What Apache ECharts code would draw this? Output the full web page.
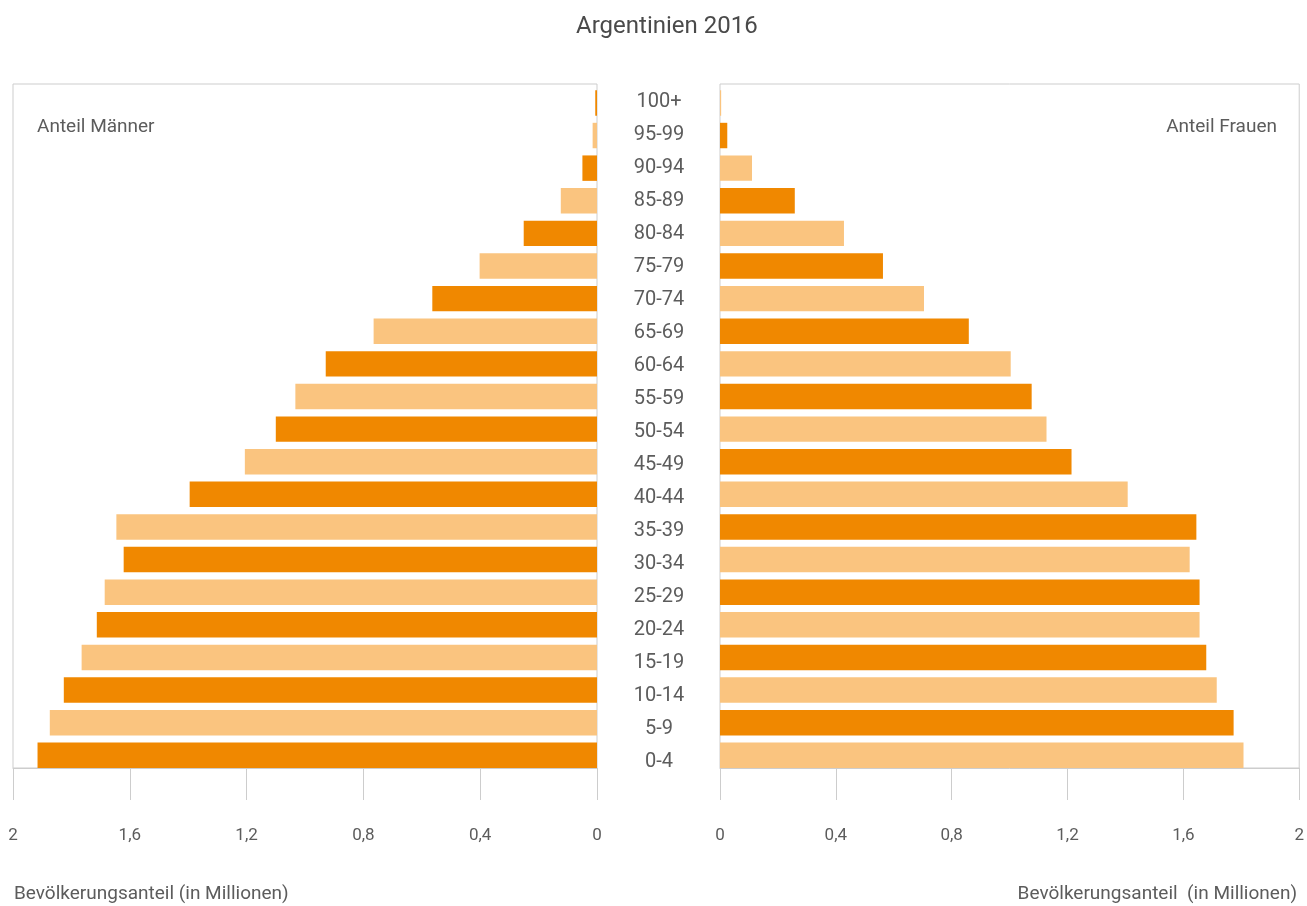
<!DOCTYPE html>
<html>
<head>
<meta charset="utf-8">
<title>Argentinien 2016</title>
<script src="https://cdn.jsdelivr.net/npm/echarts@6/dist/echarts.min.js"></script>
<style>
  html, body { margin: 0; padding: 0; background: #ffffff; }
  #chart { width: 1307px; height: 906px; }
</style>
</head>
<body>
<div id="chart"></div>
<script>
// Age groups, youngest first (drawn bottom to top)
const ageGroups = ['0-4', '5-9', '10-14', '15-19', '20-24', '25-29', '30-34', '35-39',
  '40-44', '45-49', '50-54', '55-59', '60-64', '65-69', '70-74', '75-79', '80-84',
  '85-89', '90-94', '95-99', '100+'];

// Population in millions
const men = [1.916, 1.874, 1.826, 1.765, 1.713, 1.686, 1.621, 1.646, 1.395, 1.206,
  1.100, 1.033, 0.929, 0.765, 0.564, 0.402, 0.251, 0.124, 0.050, 0.015, 0.006];
const women = [1.799, 1.765, 1.707, 1.671, 1.648, 1.648, 1.614, 1.637, 1.401, 1.208,
  1.122, 1.071, 0.999, 0.855, 0.701, 0.560, 0.426, 0.257, 0.110, 0.025, 0.004];

const xTicks = { min: 0, max: 2, interval: 0.4 };

const DARK = '#F08800';
const LIGHT = '#FAC47F';
const FRAME = '#cdcdcd';
const TEXT = '#5c5c5c';
const FONT = 'Roboto, "DejaVu Sans", sans-serif';

const fmt = v => String(+(+v).toFixed(1)).replace('.', ',');

// Panel geometry: outer frame and the slightly taller band the bars sit in
const LEFT_PANEL = { left: 13, right: 710 };
const RIGHT_PANEL = { left: 720, right: 5 };
const FRAME_V = { top: 84, bottom: 138 };
const BARS_V = { top: 86.6, bottom: 134.4 };

function frameAxis(gridIndex, inverse) {
  return {
    type: 'value', gridIndex: gridIndex, inverse: inverse,
    min: xTicks.min, max: xTicks.max, interval: xTicks.interval,
    axisLine: { show: true, lineStyle: { color: FRAME, width: 1 } },
    axisTick: { show: true, length: 32, lineStyle: { color: FRAME, width: 1 } },
    axisLabel: { margin: 59, color: TEXT, fontSize: 17, fontFamily: FONT, formatter: fmt },
    splitLine: { show: false }
  };
}

function barAxis(gridIndex, inverse) {
  return {
    type: 'value', gridIndex: gridIndex, inverse: inverse, show: false,
    min: xTicks.min, max: xTicks.max, interval: xTicks.interval
  };
}

function hiddenCategory(gridIndex) {
  return { type: 'category', gridIndex: gridIndex, data: ageGroups, show: false };
}

function colored(values, evenColor, oddColor) {
  return values.map((v, i) => ({ value: v, itemStyle: { color: i % 2 === 0 ? evenColor : oddColor } }));
}

const chart = echarts.init(document.getElementById('chart'), null, { renderer: 'canvas' });

chart.setOption({
  backgroundColor: '#ffffff',
  animation: false,
  title: {
    text: 'Argentinien 2016',
    left: 571,
    top: 10,
    textStyle: { color: '#4a4a4a', fontSize: 24, fontWeight: 'normal', fontFamily: FONT }
  },
  grid: [
    Object.assign({ show: true, borderColor: FRAME, borderWidth: 1 }, LEFT_PANEL, FRAME_V),
    Object.assign({ show: true, borderColor: FRAME, borderWidth: 1 }, RIGHT_PANEL, FRAME_V),
    Object.assign({}, LEFT_PANEL, BARS_V),
    Object.assign({}, RIGHT_PANEL, BARS_V),
    { left: 597, right: 587, top: 85.5, bottom: 127.5 }
  ],
  xAxis: [
    frameAxis(0, true),
    frameAxis(1, false),
    barAxis(2, true),
    barAxis(3, false),
    { type: 'value', gridIndex: 4, show: false }
  ],
  yAxis: [
    hiddenCategory(0),
    hiddenCategory(1),
    hiddenCategory(2),
    hiddenCategory(3),
    {
      type: 'category', gridIndex: 4, data: ageGroups, position: 'left',
      axisLine: { show: false }, axisTick: { show: false },
      axisLabel: { inside: true, align: 'center', margin: 62, color: TEXT, fontSize: 20, fontFamily: FONT }
    }
  ],
  series: [
    {
      name: 'Männer', type: 'bar', xAxisIndex: 2, yAxisIndex: 2,
      barCategoryGap: '22%', data: colored(men, DARK, LIGHT)
    },
    {
      name: 'Frauen', type: 'bar', xAxisIndex: 3, yAxisIndex: 3,
      barCategoryGap: '22%', data: colored(women, LIGHT, DARK)
    }
  ],
  graphic: [
    { type: 'text', x: 37, y: 127,
      style: { text: 'Anteil Männer', fill: TEXT, font: '19px ' + FONT, verticalAlign: 'middle' } },
    { type: 'text', x: 1277, y: 127,
      style: { text: 'Anteil Frauen', fill: TEXT, font: '19px ' + FONT, align: 'right', verticalAlign: 'middle' } },
    { type: 'text', x: 14, y: 894,
      style: { text: 'Bevölkerungsanteil (in Millionen)', fill: TEXT, font: '19px ' + FONT, verticalAlign: 'middle' } },
    { type: 'text', x: 1297, y: 894,
      style: { text: 'Bevölkerungsanteil  (in Millionen)', fill: TEXT, font: '19px ' + FONT, align: 'right', verticalAlign: 'middle' } }
  ]
});
</script>
</body>
</html>
